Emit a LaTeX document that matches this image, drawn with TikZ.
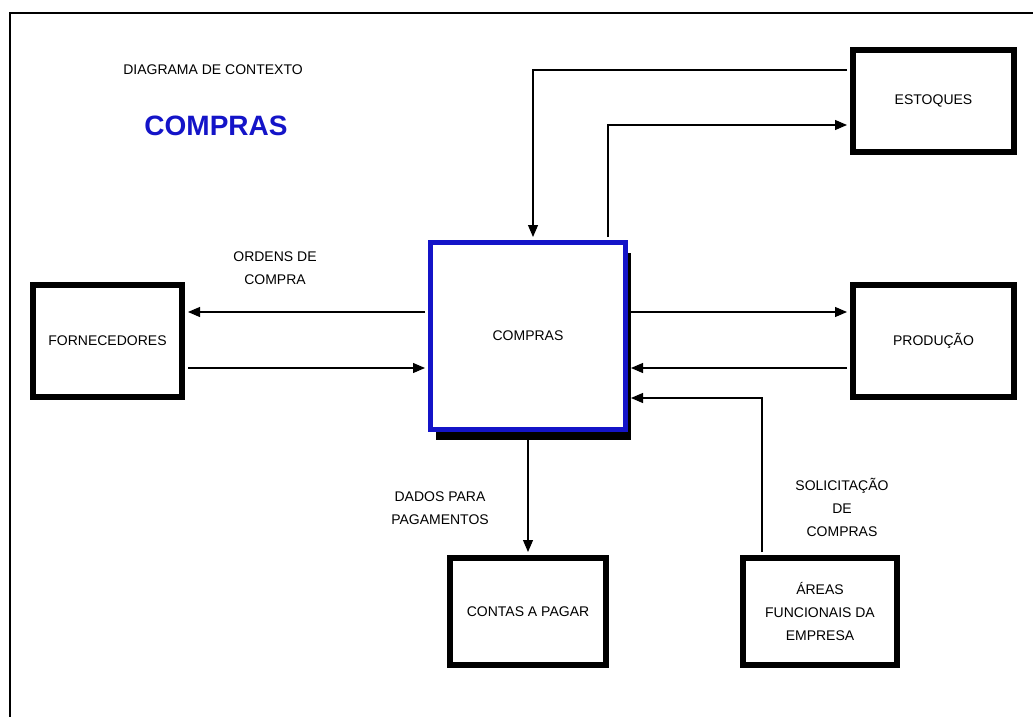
\documentclass[tikz,border=0pt]{standalone}
\usepackage{fontspec}
\setmainfont{Liberation Sans}
\usetikzlibrary{arrows.meta,shadows}
\definecolor{procblue}{RGB}{20,20,200}

\begin{document}
\begin{tikzpicture}[x=1pt,y=-1pt,
  ent/.style={draw=black,line width=6pt,fill=white,align=center,font=\fontsize{14}{23}\selectfont},
  proc/.style={draw=procblue,line width=5pt,fill=white,align=center,font=\fontsize{14}{23}\selectfont,
    drop shadow={shadow xshift=5pt,shadow yshift=-10pt,fill=black,opacity=1}},
  flow/.style={draw=black,line width=1.1pt,shorten >=3pt,shorten <=3pt,-{Triangle[length=12pt,width=10pt]}},
  lbl/.style={align=center,font=\fontsize{14}{23}\selectfont}]
\tikzstyle{every node}+=[inner sep=0pt]
\useasboundingbox (0,0) rectangle (1033,717);
\clip (0,0) rectangle (1033,717);
\draw [black,line width=1.2pt] (10,13) rectangle (1060,740);
% titulo
\node [lbl] (titulo) at (213,70) {DIAGRAMA DE CONTEXTO};
\node [font=\fontsize{28}{30}\selectfont\bfseries,text=procblue] (nome) at (216,126) {COMPRAS};
% entidades externas e processo
\node [proc,minimum width=195pt,minimum height=187pt] (comp) at (528,336) {COMPRAS};
\node [ent,minimum width=149pt,minimum height=112pt] (forn) at (107.5,341) {FORNECEDORES};
\node [ent,minimum width=161pt,minimum height=102pt] (est) at (933.5,101) {ESTOQUES};
\node [ent,minimum width=161pt,minimum height=112pt] (prod) at (933.5,341) {PRODUÇÃO};
\node [ent,minimum width=156pt,minimum height=107pt] (contas) at (528,611.5) {CONTAS A PAGAR};
\node [ent,minimum width=154pt,minimum height=107pt] (areas) at (820,611.5) {ÁREAS\\FUNCIONAIS DA\\EMPRESA};
% fluxos
\draw [flow] (comp.west |- 0,312) -- (forn.east |- 0,312);
\draw [flow] (forn.east |- 0,368) -- (comp.west |- 0,368);
\draw [flow] (comp.east |- 0,312) -- (prod.west |- 0,312);
\draw [flow] (prod.west |- 0,368) -- (comp.east |- 0,368);
\draw [flow] (est.west |- 0,70) -| (comp.north -| 533,0);
\draw [flow] (comp.north -| 608,0) |- (est.west |- 0,125);
\draw [flow] (areas.north -| 762,0) |- (comp.east |- 0,398);
\draw [flow] (comp.south) -- (contas.north);
% rotulos
\node [lbl] (ordens) at (275,268) {ORDENS DE\\COMPRA};
\node [lbl] (dados) at (440,508) {DADOS PARA\\PAGAMENTOS};
\node [lbl] (solic) at (842,507) {SOLICITAÇÃO\\DE\\COMPRAS};
\end{tikzpicture}
\end{document}
